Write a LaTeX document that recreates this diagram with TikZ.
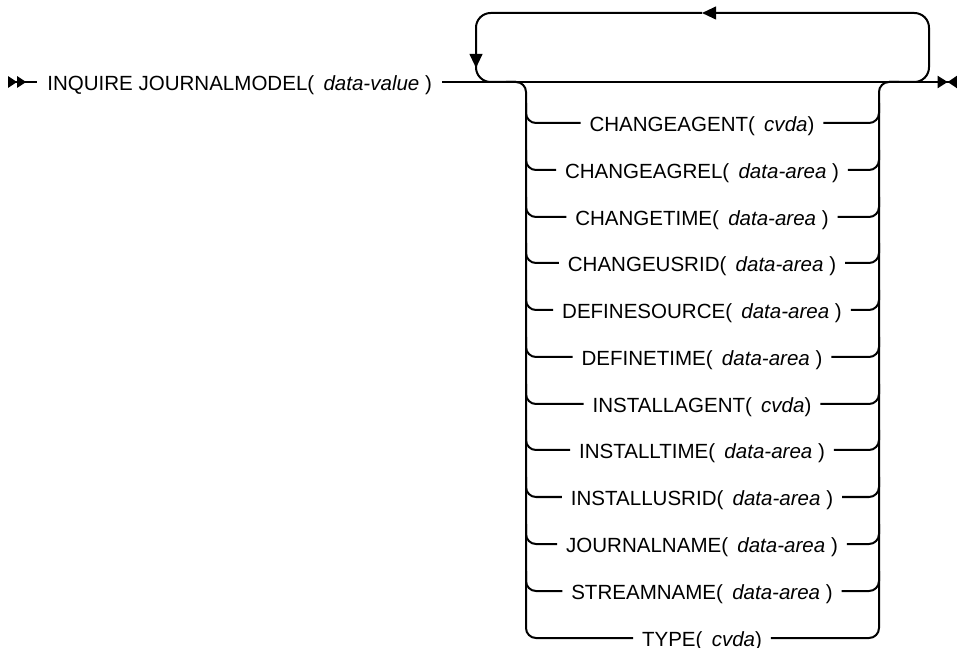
\documentclass[tikz,border=0pt]{standalone}
\usepackage{fontspec}
\setmainfont{Liberation Sans}
\usetikzlibrary{arrows.meta,calc}

\newcommand{\dv}[1]{\hspace{0.45em}\textit{#1}}

\begin{document}
\begin{tikzpicture}[x=0.75pt, y=-0.75pt, line width=1.5pt,
  kw/.style={font=\fontsize{15.4}{18}\selectfont, inner xsep=7pt, inner ysep=0pt, text height=13pt, text depth=0pt},
  opt/.style={kw, inner xsep=6pt},
  rl/.style={rounded corners=7.5pt},
  lp/.style={rounded corners=11pt},
  lptip/.style={-{Triangle[length=10.5pt,width=9.5pt]}}
]
  \useasboundingbox (0,0) rectangle (957,648);

  %% Fixed points of the main line
  \coordinate (start) at (8,82);
  \coordinate (fin)   at (957,82);
  \coordinate (lpL)   at (476,82);
  \coordinate (lpR)   at (929,82);
  \coordinate (lpT)   at (702,13);
  \coordinate (railL) at (526,82);
  \coordinate (railR) at (879,82);

  %% Main line
  \node[kw, anchor=west] (title) at (37,82) {INQUIRE JOURNALMODEL(\dv{data-value} )};
  \draw[{Triangle[reversed,length=6.8pt,width=8.5pt,sep=0pt]Triangle[reversed,length=6.8pt,width=8.5pt]}-] (start) -- (title.west);
  \draw[-{Triangle[length=7.5pt,width=9pt,sep=0pt]Triangle[reversed,length=7pt,width=9pt]}] (title.east) -- (fin);

  %% Repeat loop
  \draw[lp, lptip] ($(lpR)+(-40,0)$) -| (lpT -| lpR) -- (lpT);
  \draw[lp, lptip] (lpT) -| ($(lpL)+(0,-14)$);
  \draw[lp] ($(lpL)+(0,-20)$) |- ($(lpL)+(40,0)$);

  %% Options
  \node[opt] (opt1)  at (702,123) {CHANGEAGENT(\dv{cvda})};
  \node[opt] (opt2)  at (702,170) {CHANGEAGREL(\dv{data-area} )};
  \node[opt] (opt3)  at (702,217) {CHANGETIME(\dv{data-area} )};
  \node[opt] (opt4)  at (702,263) {CHANGEUSRID(\dv{data-area} )};
  \node[opt] (opt5)  at (702,310) {DEFINESOURCE(\dv{data-area} )};
  \node[opt] (opt6)  at (702,357) {DEFINETIME(\dv{data-area} )};
  \node[opt] (opt7)  at (702,404) {INSTALLAGENT(\dv{cvda})};
  \node[opt] (opt8)  at (702,450) {INSTALLTIME(\dv{data-area} )};
  \node[opt] (opt9)  at (702,497) {INSTALLUSRID(\dv{data-area} )};
  \node[opt] (opt10) at (702,544) {JOURNALNAME(\dv{data-area} )};
  \node[opt] (opt11) at (702,591) {STREAMNAME(\dv{data-area} )};
  \node[opt] (opt12) at (702,638) {TYPE(\dv{cvda})};

  %% Rails
  \draw[rl] ($(railL)+(-20,0)$) -| (opt12.west -| railL) -- (opt12.west);
  \draw[rl] ($(railR)+(20,0)$) -| (opt12.east -| railR) -- (opt12.east);

  %% Branches
  \draw[rl] ($(opt1.west -| railL)+(0,-20)$) |- (opt1.west);
  \draw[rl] (opt1.east) -| ($(opt1.east -| railR)+(0,-20)$);
  \draw[rl] ($(opt2.west -| railL)+(0,-20)$) |- (opt2.west);
  \draw[rl] (opt2.east) -| ($(opt2.east -| railR)+(0,-20)$);
  \draw[rl] ($(opt3.west -| railL)+(0,-20)$) |- (opt3.west);
  \draw[rl] (opt3.east) -| ($(opt3.east -| railR)+(0,-20)$);
  \draw[rl] ($(opt4.west -| railL)+(0,-20)$) |- (opt4.west);
  \draw[rl] (opt4.east) -| ($(opt4.east -| railR)+(0,-20)$);
  \draw[rl] ($(opt5.west -| railL)+(0,-20)$) |- (opt5.west);
  \draw[rl] (opt5.east) -| ($(opt5.east -| railR)+(0,-20)$);
  \draw[rl] ($(opt6.west -| railL)+(0,-20)$) |- (opt6.west);
  \draw[rl] (opt6.east) -| ($(opt6.east -| railR)+(0,-20)$);
  \draw[rl] ($(opt7.west -| railL)+(0,-20)$) |- (opt7.west);
  \draw[rl] (opt7.east) -| ($(opt7.east -| railR)+(0,-20)$);
  \draw[rl] ($(opt8.west -| railL)+(0,-20)$) |- (opt8.west);
  \draw[rl] (opt8.east) -| ($(opt8.east -| railR)+(0,-20)$);
  \draw[rl] ($(opt9.west -| railL)+(0,-20)$) |- (opt9.west);
  \draw[rl] (opt9.east) -| ($(opt9.east -| railR)+(0,-20)$);
  \draw[rl] ($(opt10.west -| railL)+(0,-20)$) |- (opt10.west);
  \draw[rl] (opt10.east) -| ($(opt10.east -| railR)+(0,-20)$);
  \draw[rl] ($(opt11.west -| railL)+(0,-20)$) |- (opt11.west);
  \draw[rl] (opt11.east) -| ($(opt11.east -| railR)+(0,-20)$);
\end{tikzpicture}
\end{document}
